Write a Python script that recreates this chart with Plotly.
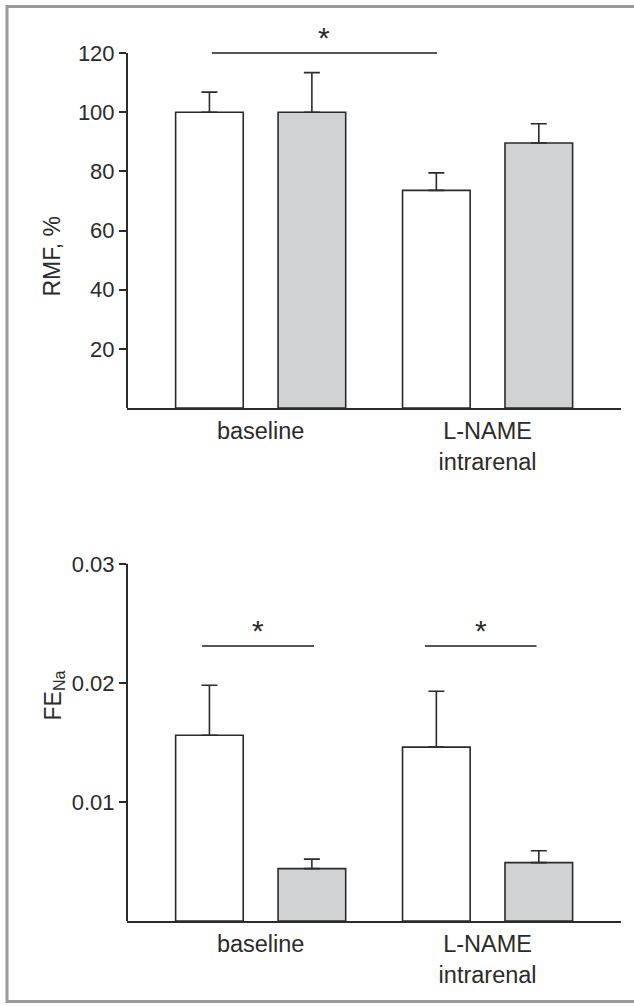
import plotly.graph_objects as go

# ---------------- data ----------------
categories = ["baseline", "L-NAME<br>intrarenal"]

rmf_white = [100.0, 73.6]
rmf_white_sem = [6.8, 5.9]
rmf_gray = [100.0, 89.6]
rmf_gray_sem = [13.4, 6.5]
rmf_ticks = [20, 40, 60, 80, 100, 120]

fena_white = [0.0156, 0.0146]
fena_white_sem = [0.0042, 0.0047]
fena_gray = [0.0044, 0.0049]
fena_gray_sem = [0.0008, 0.0010]
fena_ticks = [0.01, 0.02, 0.03]
fena_ticktext = ["0.01", "0.02", "0.03"]

# significance markers: (x start, x end in category units, level)
rmf_sig = [(-0.215, 0.777, 120.0)]
fena_sig = [(-0.258, 0.235, 0.0231), (0.724, 1.216, 0.0231)]

# ---------------- style ----------------
W, H = 634, 1006
FONT = "Liberation Sans, Arial, Helvetica, sans-serif"
INK = "#2b2b2b"
WHITE_FILL = "#ffffff"
GRAY_FILL = "#d1d2d4"
LW = 1.6


def py(px):
    return 1 - px / H


def px_(x):
    return x / W


fig = go.Figure()


def add_bars(xa, ya, white, wsem, gray, gsem):
    for vals, sem, fill in ((white, wsem, WHITE_FILL), (gray, gsem, GRAY_FILL)):
        fig.add_trace(go.Bar(
            x=categories, y=vals, xaxis=xa, yaxis=ya,
            marker=dict(color=fill, line=dict(color=INK, width=LW)),
            error_y=dict(type="data", symmetric=False, array=sem,
                         arrayminus=[0] * len(sem), color=INK,
                         thickness=LW, width=8),
            showlegend=False, hoverinfo="skip",
        ))


add_bars("x", "y", rmf_white, rmf_white_sem, rmf_gray, rmf_gray_sem)
add_bars("x2", "y2", fena_white, fena_white_sem, fena_gray, fena_gray_sem)

xrange_ = [-0.589, 1.588]
xdom = [px_(127), px_(621)]

ytick_font = dict(family=FONT, size=22, color=INK)
xtick_font = dict(family=FONT, size=23.5, color=INK)

fig.update_layout(
    width=W, height=H,
    margin=dict(l=0, r=0, t=0, b=0),
    paper_bgcolor="white", plot_bgcolor="white",
    barmode="group", bargap=0.097, bargroupgap=0.34,
    showlegend=False,
    font=dict(family=FONT, color=INK),
    xaxis=dict(domain=xdom, range=xrange_, type="category",
               showline=True, linecolor=INK, linewidth=2,
               ticks="", showgrid=False, zeroline=False,
               tickfont=xtick_font, ticklabelstandoff=1, anchor="y"),
    yaxis=dict(domain=[py(408), py(20)], range=[0, 131.2],
               tickvals=rmf_ticks, ticks="outside", ticklen=7,
               tickwidth=1.6, tickcolor=INK, showline=False,
               showgrid=False, zeroline=False, tickfont=ytick_font,
               anchor="x"),
    xaxis2=dict(domain=xdom, range=xrange_, type="category",
                showline=True, linecolor=INK, linewidth=2,
                ticks="", showgrid=False, zeroline=False,
                tickfont=xtick_font, ticklabelstandoff=1, anchor="y2"),
    yaxis2=dict(domain=[py(921), py(540)], range=[0, 0.032],
                tickvals=fena_ticks, ticktext=fena_ticktext,
                ticks="outside", ticklen=7, tickwidth=1.6,
                tickcolor=INK, showline=False, showgrid=False,
                zeroline=False, tickfont=ytick_font, anchor="x2"),
)

# y-axis lines (ending at top tick)
fig.add_shape(type="line", xref="x domain", yref="y", x0=0, x1=0,
              y0=0, y1=rmf_ticks[-1], line=dict(color=INK, width=2))
fig.add_shape(type="line", xref="x2 domain", yref="y2", x0=0, x1=0,
              y0=0, y1=fena_ticks[-1], line=dict(color=INK, width=2))

# significance lines and stars
for xr, yr, sigs in (("x", "y", rmf_sig), ("x2", "y2", fena_sig)):
    for x0, x1, lvl in sigs:
        fig.add_shape(type="line", xref=xr, yref=yr, x0=x0, x1=x1,
                      y0=lvl, y1=lvl, line=dict(color="#555555", width=2))
        fig.add_annotation(x=(x0 + x1) / 2, y=lvl, xref=xr, yref=yr,
                           text="*", showarrow=False, yanchor="bottom",
                           yshift=-3, font=dict(family=FONT, size=30, color=INK))

# axis titles
fig.add_annotation(x=px_(37), y=py(214), xref="paper", yref="paper",
                   text="RMF, %", textangle=-90, showarrow=False,
                   font=dict(family=FONT, size=23, color=INK))
fig.add_annotation(x=px_(37), y=py(723), xref="paper", yref="paper",
                   text="FE<sub>Na</sub>", textangle=-90, showarrow=False,
                   font=dict(family=FONT, size=23, color=INK))

# outer gray frame
fig.add_shape(type="rect", xref="paper", yref="paper",
              x0=px_(7), x1=px_(645), y0=py(1001.5), y1=py(6.5),
              line=dict(color="#9a9a9a", width=3), layer="below")

fig.write_html("out.html")
